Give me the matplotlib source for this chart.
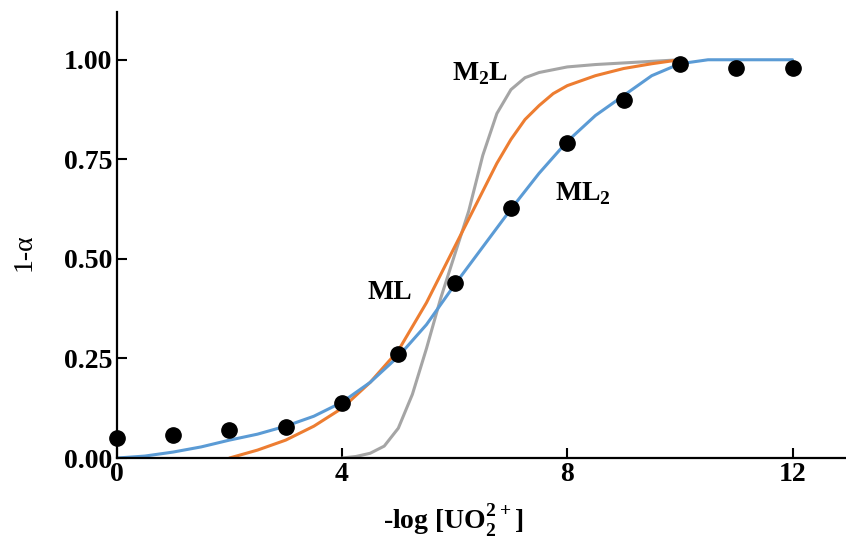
import matplotlib
matplotlib.use('Agg')
import matplotlib.pyplot as plt

plt.rcParams['font.family'] = ['Liberation Serif', 'DejaVu Serif']

# measured points
pts_x = [0, 1, 2, 3, 4, 5, 6, 7, 8, 9, 10, 11, 12]
pts_y = [0.05, 0.058, 0.07, 0.078, 0.138, 0.26, 0.44, 0.627, 0.79, 0.90, 0.99, 0.98, 0.98]

# ML2 model (blue)
ml2_x = [0, 0.5, 1, 1.5, 2, 2.5, 3, 3.5, 4, 4.5, 5, 5.5, 6, 6.5, 7, 7.5, 8, 8.5, 9, 9.5, 10, 10.5, 11, 12]
ml2_y = [0, 0.005, 0.015, 0.028, 0.045, 0.06, 0.08, 0.105, 0.14, 0.19, 0.255, 0.335, 0.435, 0.53,
         0.625, 0.715, 0.795, 0.86, 0.91, 0.96, 0.99, 1.0, 1.0, 1.0]

# ML model (orange)
ml_x = [2.0, 2.5, 3.0, 3.5, 4.0, 4.5, 5.0, 5.5, 6.0, 6.25, 6.5, 6.75, 7.0, 7.25, 7.5, 7.75,
        8.0, 8.5, 9.0, 9.5, 10]
ml_y = [0, 0.02, 0.045, 0.08, 0.125, 0.19, 0.27, 0.39, 0.53, 0.6, 0.67, 0.74, 0.8, 0.85, 0.885,
        0.915, 0.935, 0.96, 0.978, 0.99, 1.0]

# M2L model (gray)
m2l_x = [4.0, 4.25, 4.5, 4.75, 5.0, 5.25, 5.5, 5.75, 6.0, 6.25, 6.5, 6.75, 7.0, 7.25, 7.5,
         8, 8.5, 9, 9.5, 10]
m2l_y = [0, 0.004, 0.012, 0.03, 0.075, 0.16, 0.275, 0.4, 0.51, 0.62, 0.76, 0.865, 0.925, 0.955,
         0.968, 0.982, 0.988, 0.992, 0.996, 1.0]

fig = plt.figure(figsize=(8.46, 5.44), dpi=100)
ax = fig.add_axes([0.138, 0.158, 0.862, 0.82])

style = dict(lw=2.2, solid_joinstyle='round', solid_capstyle='round')
ax.plot(m2l_x, m2l_y, color='#a5a5a5', **style)
ax.plot(ml_x, ml_y, color='#ed7d31', **style)
ax.plot(ml2_x, ml2_y, color='#5b9bd5', **style)
ax.plot(pts_x, pts_y, 'o', color='black', ms=11, clip_on=False, zorder=5)

ax.text(6.45, 0.965, 'M$_\\mathregular{2}$L', fontsize=20, fontweight='bold', ha='center', va='center')
ax.text(8.28, 0.664, 'ML$_\\mathregular{2}$', fontsize=20, fontweight='bold', ha='center', va='center')
ax.text(4.85, 0.416, 'ML', fontsize=20, fontweight='bold', ha='center', va='center')

ax.set_xlim(0, 12.95)
ax.set_ylim(0, 1.12)
ax.set_xticks([0, 4, 8, 12])
ax.set_yticks([0, 0.25, 0.5, 0.75, 1.0])
ax.set_yticklabels(['0.00', '0.25', '0.50', '0.75', '1.00'])
for lab in ax.get_xticklabels() + ax.get_yticklabels():
    lab.set_fontweight('bold')
ax.tick_params(direction='in', length=7, width=1.5, labelsize=20, pad=3)

ax.spines['top'].set_visible(False)
ax.spines['right'].set_visible(False)
ax.spines['left'].set_linewidth(1.6)
ax.spines['bottom'].set_linewidth(1.6)

ax.set_xlabel('-log [UO$_\\mathregular{2}^\\mathregular{2+}$]', fontsize=20, fontweight='bold')
ax.xaxis.set_label_coords(0.462, -0.1)
ax.set_ylabel('1-α', fontsize=20)
ax.yaxis.set_label_coords(-0.11, 0.462)

fig.savefig('out.png', dpi=100)
